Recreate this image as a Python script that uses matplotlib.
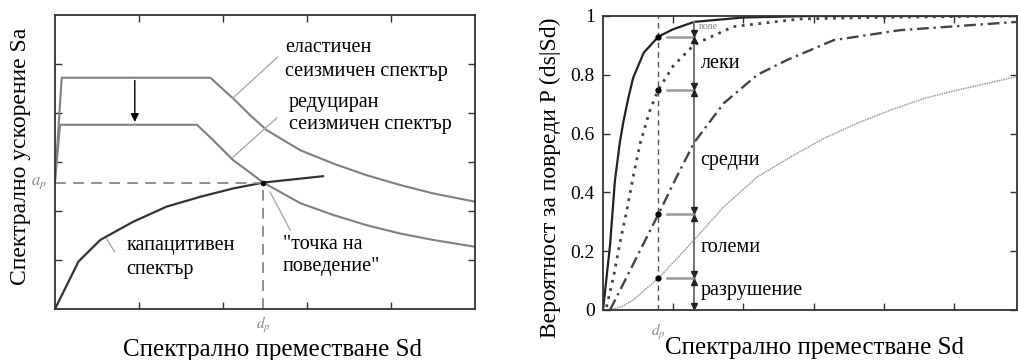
import numpy as np
import matplotlib
matplotlib.use('Agg')
import matplotlib.pyplot as plt

plt.rcParams['font.family'] = ['Liberation Serif', 'DejaVu Serif']
plt.rcParams['mathtext.fontset'] = 'stix'

# ---- left panel: spectra ----
el_x = [0.0, 0.08, 1.85, 2.04, 2.12, 2.32, 2.52, 2.92, 3.31, 3.71, 4.11, 4.5, 5.0]
el_y = [2.6, 4.72, 4.72, 4.42, 4.30, 3.96, 3.65, 3.24, 2.97, 2.73, 2.53, 2.36, 2.19]

red_x = [0.0, 0.06, 1.69, 1.88, 2.12, 2.48, 2.92, 3.31, 3.71, 4.11, 4.5, 5.0]
red_y = [2.6, 3.76, 3.76, 3.45, 3.04, 2.58, 2.16, 1.92, 1.71, 1.54, 1.41, 1.27]

cap_x = [0.0, 0.28, 0.54, 0.93, 1.33, 1.73, 2.12, 2.48, 3.19]
cap_y = [0.0, 0.97, 1.41, 1.78, 2.09, 2.29, 2.46, 2.58, 2.71]

dp_left = 2.48
ap_left = 2.58

# ---- right panel: fragility curves ----
sl_x = [0.0, 0.1, 0.17, 0.24, 0.29, 0.36, 0.43, 0.58, 0.79, 1.0, 1.3, 2.0, 3.0, 5.9]
sl_y = [0.0, 0.22, 0.44, 0.57, 0.64, 0.72, 0.79, 0.875, 0.93, 0.955, 0.98, 0.995, 1.0, 1.0]

mo_x = [0.05, 0.15, 0.24, 0.34, 0.43, 0.53, 0.67, 0.79, 1.0, 1.29, 1.39, 1.86, 2.81, 3.8, 5.9]
mo_y = [0.01, 0.113, 0.227, 0.34, 0.453, 0.567, 0.68, 0.75, 0.83, 0.90, 0.913, 0.964, 0.99, 0.995, 1.0]

ex_x = [0.1, 0.34, 0.58, 0.79, 1.05, 1.3, 1.72, 2.2, 2.62, 3.29, 4.24, 5.9]
ex_y = [0.0, 0.113, 0.227, 0.326, 0.453, 0.57, 0.703, 0.80, 0.85, 0.918, 0.952, 0.98]

co_x = [0.1, 0.25, 0.43, 0.79, 1.34, 1.72, 2.2, 2.67, 3.15, 3.62, 4.1, 4.58, 5.05, 5.9]
co_y = [0.0, 0.01, 0.034, 0.108, 0.249, 0.351, 0.453, 0.52, 0.584, 0.635, 0.68, 0.72, 0.748, 0.794]

dp_right = 0.79
sd_read = 1.29
levels = [0.93, 0.75, 0.326, 0.108]
state_labels = ['леки', 'средни', 'големи', 'разрушение']
state_y = [0.84, 0.507, 0.214, 0.065]

fig = plt.figure(figsize=(10.18, 3.6), dpi=100)

# ================= left =================
ax1 = fig.add_axes([55/1018, 51/360, 420/1018, 294/360])
ax1.set_xlim(0, 5)
ax1.set_ylim(0, 6)
ax1.set_xticks([1, 2, 3, 4])
ax1.set_yticks([1, 2, 3, 4, 5])
ax1.tick_params(direction='in', length=5, width=1, top=True, right=True,
                labelbottom=False, labelleft=False, color='#333')
for s in ax1.spines.values():
    s.set_color('#333')
    s.set_linewidth(1.3)

ax1.plot(el_x, el_y, color='#808080', lw=1.5)
ax1.plot(red_x, red_y, color='#808080', lw=1.5)
ax1.plot(cap_x, cap_y, color='#333333', lw=1.6)
ax1.plot([0, dp_left], [ap_left, ap_left], color='#888', lw=1.3, dashes=(6, 4))
ax1.plot([dp_left, dp_left], [0, ap_left], color='#888', lw=1.3, dashes=(6, 4))
ax1.plot([dp_left], [ap_left], 'o', color='black', ms=3)
ax1.annotate('', xy=(0.95, 3.76), xytext=(0.95, 4.72),
             arrowprops=dict(arrowstyle='-|>', color='black', lw=1, mutation_scale=12))

# leader lines
ax1.plot([2.12, 2.65], [4.31, 5.14], color='#aaa', lw=1)
ax1.plot([2.12, 2.64], [3.10, 3.90], color='#aaa', lw=1)
ax1.plot([2.56, 2.80], [2.39, 1.61], color='#aaa', lw=1)
ax1.plot([0.61, 0.71], [1.44, 1.17], color='#aaa', lw=1)

fs_note = 14.5
ax1.text(2.74, 5.33, 'еластичен', fontsize=fs_note, va='center')
ax1.text(2.74, 4.84, 'сеизмичен спектър', fontsize=fs_note, va='center')
ax1.text(2.78, 4.22, 'редуциран', fontsize=fs_note, va='center')
ax1.text(2.78, 3.76, 'сеизмичен спектър', fontsize=fs_note, va='center')
ax1.text(0.85, 1.29, 'капацитивен', fontsize=fs_note, va='center')
ax1.text(0.85, 0.81, 'спектър', fontsize=fs_note, va='center')
ax1.text(2.71, 1.31, '"точка на', fontsize=fs_note, va='center')
ax1.text(2.71, 0.86, 'поведение"', fontsize=fs_note, va='center')

ax1.text(-0.1, ap_left, '$a_p$', fontsize=12, color='#888', ha='right', va='center')
ax1.text(dp_left, -0.12, '$d_p$', fontsize=11, color='#888', ha='center', va='top')

ax1.set_ylabel('Спектрално ускорение Sa', fontsize=17)
ax1.yaxis.set_label_coords(-0.083, 0.52)
ax1.yaxis.label.set_va('center')
ax1.set_xlabel('Спектрално преместване Sd', fontsize=18)
ax1.xaxis.set_label_coords(0.517, -0.14)
ax1.xaxis.label.set_va('center')

# ================= right =================
ax2 = fig.add_axes([603/1018, 50/360, 414/1018, 294/360])
ax2.set_xlim(0, 5.9)
ax2.set_ylim(0, 1)
ax2.set_xticks([1, 2, 3, 4, 5])
ax2.set_yticks([0, 0.2, 0.4, 0.6, 0.8, 1])
ax2.set_yticklabels(['0', '0.2', '0.4', '0.6', '0.8', '1'])
ax2.tick_params(direction='in', length=5, width=1, top=True, right=True,
                labelbottom=False, labelsize=14, color='#333', pad=6)
for s in ax2.spines.values():
    s.set_color('#333')
    s.set_linewidth(1.3)

ax2.plot(sl_x, sl_y, color='#222', lw=1.6)
ax2.plot(mo_x, mo_y, color='#444', lw=2, linestyle=(0, (1, 2)))
ax2.plot(ex_x, ex_y, color='#444', lw=1.7, linestyle=(0, (5, 2, 1, 2)))
ax2.plot(co_x, co_y, color='#999', lw=1.1, linestyle=(0, (1, 0.6)))

ax2.plot([dp_right, dp_right], [0, 1], color='#555', lw=1, dashes=(4, 3))
ax2.plot([sd_read, sd_read], [0, 0.98], color='#777', lw=1.5)
for lv in levels:
    ax2.plot([0.91, sd_read], [lv, lv], color='#999', lw=1.8)
    ax2.plot([dp_right], [lv], 'o', color='black', ms=3.5)
    # arrow heads meeting at each level
    ax2.plot([sd_read], [lv + 0.013], marker='v', color='#222', ms=4.5)
    ax2.plot([sd_read], [lv - 0.013], marker='^', color='#222', ms=4.5)
ax2.plot([sd_read], [0.013], marker='v', color='#222', ms=4.5)

for lab, yy in zip(state_labels, state_y):
    ax2.text(1.39, yy, lab, fontsize=fs_note, va='center')
ax2.text(1.36, 0.963, 'none', fontsize=7, color='#888', va='center')

ax2.text(dp_right, -0.04, '$d_p$', fontsize=11, color='#888', ha='center', va='top')

ax2.set_ylabel('Вероятност за повреди P (ds|Sd)', fontsize=17)
ax2.yaxis.set_label_coords(-0.128, 0.45)
ax2.yaxis.label.set_va('center')
ax2.set_xlabel('Спектрално преместване Sd', fontsize=18)
ax2.xaxis.set_label_coords(0.51, -0.13)
ax2.xaxis.label.set_va('center')

fig.savefig('out.png', dpi=100)
